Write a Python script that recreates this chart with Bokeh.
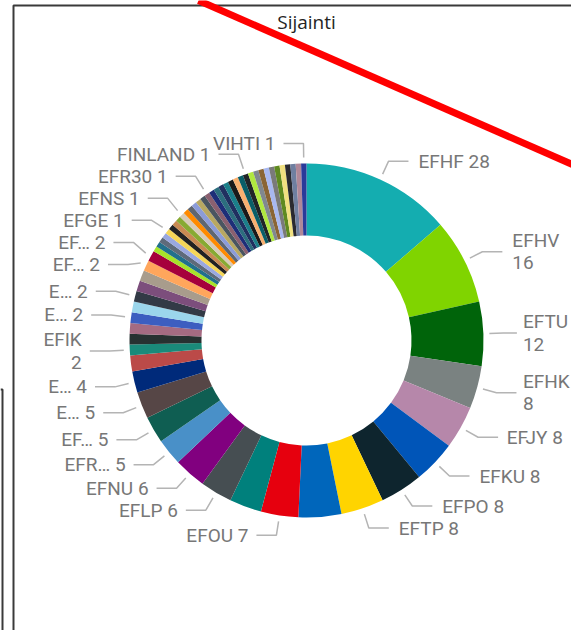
import numpy as np
from bokeh.plotting import figure
from bokeh.models import Range1d, ColumnDataSource
from bokeh.embed import file_html
from bokeh.resources import INLINE
from bokeh.core.properties import value

# ---------------- data ----------------
title_text = "Sijainti"

# slice names as they can be read in the picture ("" = slice without a visible label)
big_names = ["EFHF", "EFHV", "EFTU", "EFHK", "EFJY", "EFKU", "EFPO", "EFTP", "",
             "EFOU", "", "EFLP", "EFNU", "EFR…", "EF…", "E…", "E…", ""]
big_values = [28, 16, 12, 8, 8, 8, 8, 8, 8, 7, 6, 6, 6, 5, 5, 5, 4, 3]

two_names = ["EFIK", "", "", "E…", "", "E…", "", "", "EF…", "EF…"]
two_values = [2, 2, 2, 2, 2, 2, 2, 2, 2, 2]

one_names = ["", "", "", "", "EFGE", "", "", "", "EFNS", "",
             "", "", "", "", "EFR30", "", "", "", "", "",
             "", "", "FINLAND", "", "", "", "", "", "", "",
             "", "", "", "VIHTI"]
one_values = [1, 1, 1, 1, 1, 1, 1, 1, 1, 1,
              1, 1, 1, 1, 1, 1, 1, 1, 1, 1,
              1, 1, 1, 1, 1, 1, 1, 1, 1, 1,
              1, 1, 1, 1]

# labels that Power BI wrapped onto two lines
wrapped = ["EFHV", "EFTU", "EFHK", "EFIK"]

# ---------------- style ----------------
colors = [
    "#14ADB0", "#80D400", "#00640A", "#7A8281", "#B687AA", "#0055B8", "#0E252E",
    "#FFD400", "#0066BB", "#E6000E", "#00807C", "#464E52", "#81007F", "#4990C8",
    "#0F5E52", "#564646", "#002A7A", "#BB4A48",
    # twos
    "#1A8A7A", "#273131", "#A56B82", "#3C5EC0", "#9BD6EC", "#323A46", "#7C4E7C",
    "#A89C8C", "#FFA65C", "#A6003C",
    # ones
    "#A8E22A", "#22708C", "#5E6A7A", "#9AA8E0", "#F5D658", "#222222", "#C88A52",
    "#88AA33", "#D8CBB8", "#FF8A00", "#5F6670", "#8C9CD8", "#B8A862", "#4A5560",
    "#8A6070", "#1E2E78", "#2C6E7E", "#203060", "#1B7F8A", "#1A1A1A", "#F8B070",
    "#0A5E68", "#202428", "#B0E840", "#808890", "#8A6535", "#A8B8F0", "#7A7A7A",
    "#5F8A20", "#F0E080", "#2A2A30", "#6F7FA0", "#B08898", "#2A3A9A",
]

W, H = 571, 630

CX, CY = 306, 340          # donut centre (picture pixels)
R_OUT, R_IN = 177, 105
R_LS, R_EL = 183, 197      # leader start / elbow radius
LEG = 20
GAP_L, GAP_R = 8, 10
LINE_H = 22
FONT_PX = 19

LABEL_FONT = "Roboto"
LABEL_COLOR = "#777777"
LEADER_COLOR = "#B4B4B4"

CHAR_EM = {" ": 0.25, "…": 0.75, "I": 0.28}


def text_w(t):
    return sum(CHAR_EM.get(ch, 0.6) for ch in t) * FONT_PX


def Y(sy):
    """picture y (down) -> data y (up)"""
    return H - sy


names = big_names + two_names + one_names
values = big_values + two_values + one_values

vals = np.array(values, dtype=float)
T = vals.sum()
cum = np.cumsum(vals)
th1 = (cum - vals) / T * 2 * np.pi
th2 = cum / T * 2 * np.pi

src = ColumnDataSource(dict(
    start=np.pi / 2 - th2,
    end=np.pi / 2 - th1,
    color=colors[:len(values)],
))

p = figure(width=W, height=H, output_backend="svg", toolbar_location=None,
           x_range=Range1d(0, W), y_range=Range1d(0, H),
           x_axis_type=None, y_axis_type=None, min_border=0)
p.grid.visible = False
p.outline_line_color = None
p.background_fill_color = "white"
p.border_fill_color = "white"

# frame of the visual + neighbouring visual's edge
p.multi_line(xs=[[13, 13, W + 10], [0, 2, 2]],
             ys=[[Y(H + 10), Y(5), Y(5)], [Y(389), Y(389), Y(H + 10)]],
             line_color="#3A3A3A", line_width=2)

p.annular_wedge(x=CX, y=Y(CY), inner_radius=R_IN, outer_radius=R_OUT,
                start_angle="start", end_angle="end", fill_color="color",
                line_color=None, source=src)

# ---------------- labels with leader lines ----------------
mid = (th1 + th2) / 2
items = []
for i, nm in enumerate(names):
    if not nm:
        continue
    txt = f"{nm}\n{values[i]}" if nm in wrapped else f"{nm} {values[i]}"
    lines = txt.split("\n")
    s, c = np.sin(mid[i]), np.cos(mid[i])
    side = 1 if s > 0.02 else -1
    ex, ey = CX + R_EL * s, CY - R_EL * c
    width = max(text_w(t) for t in lines)
    if side > 0:
        tx = min(ex + LEG + GAP_R, W - width - 3)
        leg_end = min(ex + LEG, tx - 6)
        x0, x1 = tx, tx + width
    else:
        tx = max(ex - LEG - GAP_L, width + 3)
        leg_end = max(ex - LEG, tx + 6)
        x0, x1 = tx - width, tx
    items.append(dict(txt=txt, side=side, sx=CX + R_LS * s, sy=CY - R_LS * c,
                      ex=ex, y=ey, tx=tx, leg=leg_end, x0=x0, x1=x1,
                      h=LINE_H * len(lines) - (3 if len(lines) > 1 else 0)))

for sd in (1, -1):
    grp = sorted([d for d in items if d["side"] == sd], key=lambda d: d["y"])
    for _ in range(400):
        for a in range(len(grp)):
            for b in range(a + 1, len(grp)):
                A, B = grp[a], grp[b]
                if A["x1"] - 4 < B["x0"] or B["x1"] - 4 < A["x0"]:
                    continue
                need = (A["h"] + B["h"]) / 2
                d = B["y"] - A["y"]
                if d < need:
                    push = (need - d) / 2 + 0.01
                    A["y"] -= push
                    B["y"] += push

xs, ys = [], []
for d in items:
    xs.append([d["sx"], d["ex"], d["leg"]])
    ys.append([Y(d["sy"]), Y(d["y"]), Y(d["y"])])
p.multi_line(xs=xs, ys=ys, line_color=LEADER_COLOR, line_width=1.5)

for sd, align in ((1, "left"), (-1, "right")):
    sel = [d for d in items if d["side"] == sd]
    p.text(x=[d["tx"] for d in sel], y=[Y(d["y"]) for d in sel],
           text=[d["txt"] for d in sel], text_align=align, text_baseline="middle",
           text_font=value(LABEL_FONT), text_font_size=f"{FONT_PX}px",
           text_color=LABEL_COLOR, text_line_height=0.97)

# title
p.text(x=[CX], y=[Y(21)], text=[title_text], text_align="center",
       text_baseline="middle", text_font=value("Open Sans"),
       text_font_size="19px", text_color="#252423")

# red annotation stroke drawn over the screenshot
p.segment(x0=[198], y0=[Y(0)], x1=[W + 10], y1=[Y(168)],
          line_color="#FF0000", line_width=7)

open("out.html", "w").write(file_html(p, INLINE))
